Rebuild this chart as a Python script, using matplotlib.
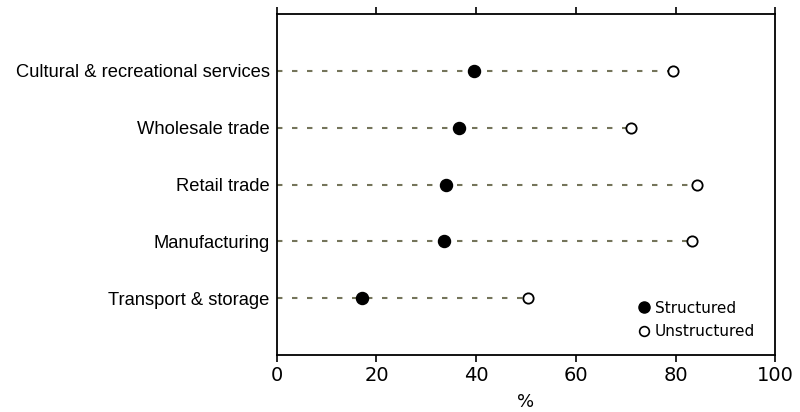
import matplotlib
matplotlib.use("Agg")
import matplotlib.pyplot as plt
from matplotlib.lines import Line2D

categories = ["Transport & storage", "Manufacturing", "Retail trade",
              "Wholesale trade", "Cultural & recreational services"]
structured = [17, 33.5, 34, 36.5, 39.5]
unstructured = [50.5, 83.3, 84.4, 71, 79.5]
xticks = [0, 20, 40, 60, 80, 100]

plt.rcParams['font.family'] = ['Liberation Sans', 'DejaVu Sans']

fig = plt.figure(figsize=(8, 4.12), dpi=100)
ax = fig.add_axes([0.346, 0.138, 0.623, 0.828])

ypos = list(range(len(categories)))
for y, u in zip(ypos, unstructured):
    ax.plot([0, u], [y, y], linestyle=(0, (2.6, 4.6)), color='#74745a', lw=1.5, zorder=1)
ax.scatter(structured, ypos, s=75, color='black', zorder=3)
ax.scatter(unstructured, ypos, s=55, facecolor='white', edgecolor='black',
           linewidths=1.3, zorder=3)

ax.set_xlim(0, 100)
ax.set_ylim(-1, 5)
ax.set_xticks(xticks)
ax.set_xticklabels([str(t) for t in xticks], fontsize=14, family='DejaVu Sans')
ax.tick_params(axis='x', which='both', top=True, bottom=True, direction='out',
               length=5, width=1.2, pad=3)
ax.set_yticks(ypos)
ax.set_yticklabels(categories, fontsize=13.2)
ax.tick_params(axis='y', length=0, pad=5)
for s in ax.spines.values():
    s.set_linewidth(1.3)
ax.set_xlabel('%', fontsize=13, family='DejaVu Sans', va='center')
ax.xaxis.set_label_coords(0.5, -0.136)

handles = [Line2D([], [], marker='o', linestyle='none', markerfacecolor='black',
                  markeredgecolor='black', markersize=8, label='Structured'),
           Line2D([], [], marker='o', linestyle='none', markerfacecolor='white',
                  markeredgecolor='black', markersize=7, markeredgewidth=1.2,
                  label='Unstructured')]
ax.legend(handles=handles, loc='center left', frameon=False,
          prop={'family': 'DejaVu Sans', 'size': 11},
          handletextpad=0.2, handlelength=1.0, borderpad=0, borderaxespad=0,
          labelspacing=0.55, bbox_to_anchor=(0.722, 0.103))

fig.savefig('out.png', dpi=100)
